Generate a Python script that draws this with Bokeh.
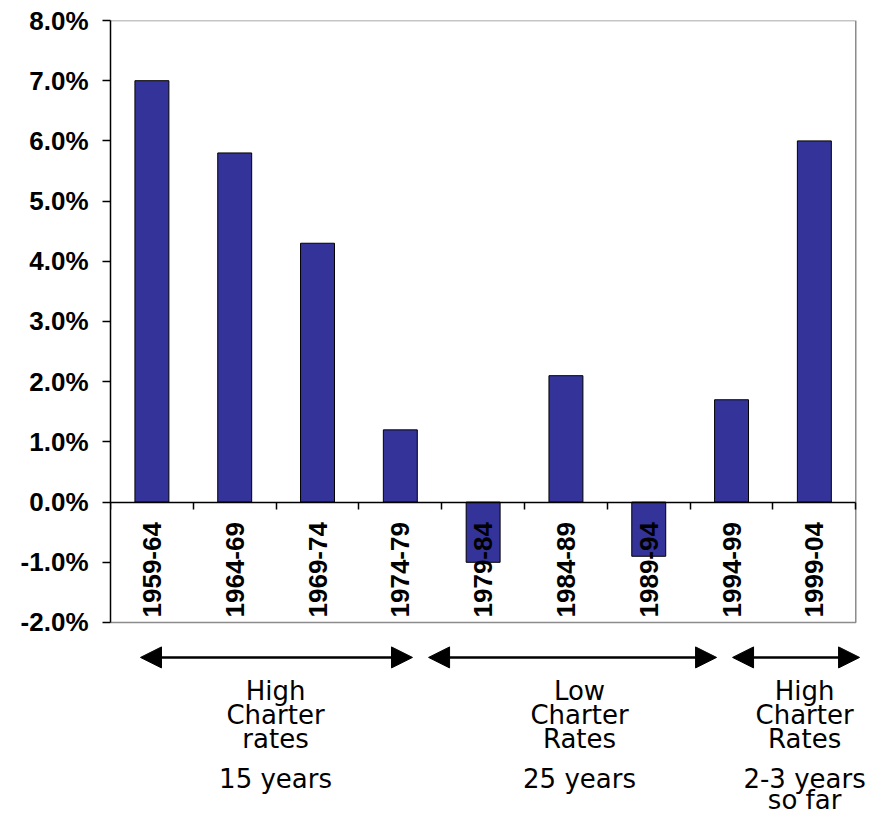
import math
import numpy as np
from bokeh.plotting import figure
from bokeh.models import Range1d, FixedTicker, PrintfTickFormatter, Arrow, NormalHead, LinearAxis
from bokeh.core.properties import value
from bokeh.embed import file_html
from bokeh.resources import INLINE

# Five-year periods and the average rate for each (in percent)
periods = ["1959-64", "1964-69", "1969-74", "1974-79", "1979-84",
           "1984-89", "1989-94", "1994-99", "1999-04"]
rates = [7.0, 5.8, 4.3, 1.2, -1.0, 2.1, -0.9, 1.7, 6.0]

y_ticks = [-2, -1, 0, 1, 2, 3, 4, 5, 6, 7, 8]

# Charter-rate regimes shown beneath the chart
regime_titles = [["High", "Charter", "rates"],
                 ["Low", "Charter", "Rates"],
                 ["High", "Charter", "Rates"]]
regime_spans = [["15 years"], ["25 years"], ["2-3 years", "so far"]]

# layout of the annotation block (category units / percent units)
regime_centers = [1.993, 5.664, 8.382]
arrow_extents = [(0.362, 3.647), (3.841, 7.319), (7.512, 9.046)]
ARROW_Y = -2.58
TITLE_Y = -3.14
SPAN_Y = -4.60
LINE_STEP_PX = 24
SPAN_STEP_PX = 21

Y_MIN, Y_MAX = y_ticks[0], y_ticks[-1]
n = len(periods)
centers = np.arange(n) + 0.5

p = figure(width=871, height=815, output_backend="svg", toolbar_location=None,
           x_range=Range1d(0, 9.19), y_range=Range1d(-5.206, Y_MAX),
           x_axis_location=None, y_axis_location=None,
           min_border_left=110, min_border_right=0,
           min_border_top=20, min_border_bottom=0)
p.outline_line_color = None
p.background_fill_color = "white"
p.border_fill_color = "white"

# plot-area box (grey top, right and bottom edges)
p.line(x=[0, n, n, 0], y=[Y_MAX, Y_MAX, Y_MIN, Y_MIN], line_color="#8c8c8c", line_width=1.5)

# bars
p.vbar(x=centers, top=rates, bottom=0, width=0.41,
       fill_color="#333399", line_color="black", line_width=1)

# y axis
yaxis = LinearAxis(ticker=FixedTicker(ticks=y_ticks),
                   formatter=PrintfTickFormatter(format="%.1f%%"))
yaxis.bounds = (Y_MIN, Y_MAX)
yaxis.axis_line_color = "black"
yaxis.axis_line_width = 1.5
yaxis.major_tick_out = 8
yaxis.major_tick_in = 0
yaxis.major_tick_line_width = 1.5
yaxis.minor_tick_line_color = None
yaxis.major_label_standoff = 14
yaxis.major_label_text_font = "Liberation Sans"
yaxis.major_label_text_font_style = "bold"
yaxis.major_label_text_font_size = "26px"
yaxis.major_label_text_color = "black"
p.add_layout(yaxis, "left")

# zero line with category-boundary ticks (no labels of its own)
xaxis = LinearAxis(ticker=FixedTicker(ticks=list(range(n + 1))))
xaxis.fixed_location = 0
xaxis.bounds = (0, n)
xaxis.axis_line_color = "black"
xaxis.axis_line_width = 1.5
xaxis.major_tick_in = 7
xaxis.major_tick_out = 0
xaxis.major_tick_line_width = 1.5
xaxis.minor_tick_line_color = None
xaxis.major_label_text_color = None
xaxis.major_label_text_font_size = "10px"
xaxis.major_label_standoff = 0
p.add_layout(xaxis, "above")

p.xgrid.visible = False
p.ygrid.visible = False

# vertical period labels along the bottom of the plot area
p.text(x=centers, y=[Y_MIN] * n, text=periods, angle=math.pi / 2,
       text_align="left", text_baseline="middle", y_offset=-5,
       text_font=value("Liberation Sans"), text_font_style="bold",
       text_font_size="26px", text_color="black")

# regime arrows
for x0, x1 in arrow_extents:
    p.add_layout(Arrow(
        start=NormalHead(size=21, fill_color="black", line_color="black"),
        end=NormalHead(size=21, fill_color="black", line_color="black"),
        x_start=x0, y_start=ARROW_Y, x_end=x1, y_end=ARROW_Y,
        line_color="black", line_width=2.5))

# regime captions
for cx, title, span in zip(regime_centers, regime_titles, regime_spans):
    for i, line in enumerate(title):
        p.text(x=[cx], y=[TITLE_Y], text=[line], y_offset=i * LINE_STEP_PX,
               text_align="center", text_baseline="alphabetic",
               text_font=value("DejaVu Sans"), text_font_size="26px",
               text_color="black")
    for i, line in enumerate(span):
        p.text(x=[cx], y=[SPAN_Y], text=[line], y_offset=i * SPAN_STEP_PX,
               text_align="center", text_baseline="alphabetic",
               text_font=value("DejaVu Sans"), text_font_size="26px",
               text_color="black")

open("out.html", "w").write(file_html(p, INLINE))
